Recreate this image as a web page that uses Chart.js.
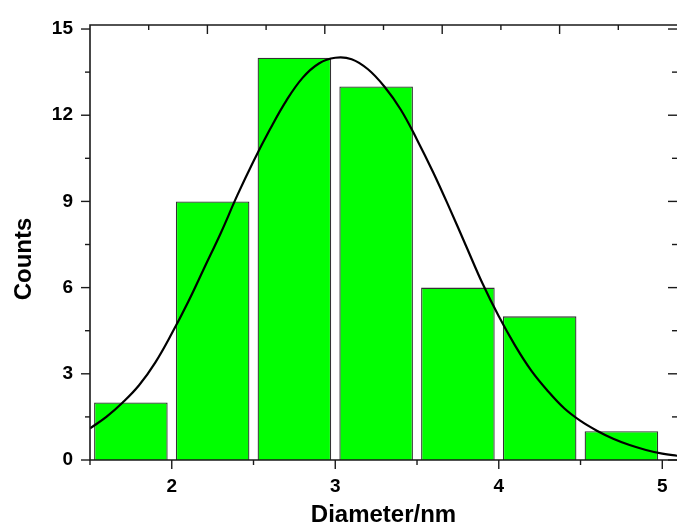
<!DOCTYPE html>
<html>
<head>
<meta charset="utf-8">
<script src="https://cdn.jsdelivr.net/npm/chart.js@4.4.1/dist/chart.umd.min.js"></script>
<style>
  body { margin: 0; background: #fff; }
  #wrap { width: 677px; height: 529px; position: relative; }
</style>
</head>
<body>
<div id="wrap"><canvas id="histChart"></canvas></div>
<script>
// histogram bins (centre of each 0.5 nm bin) and counts
const binCenters = [1.75, 2.25, 2.75, 3.25, 3.75, 4.25, 4.75];
const counts = [2, 9, 14, 13, 6, 5, 1];

// fitted curve
const fitX = [1.5, 1.6, 1.7, 1.8, 1.9, 2.0, 2.1, 2.2, 2.3, 2.4, 2.5, 2.6, 2.7, 2.8, 2.9, 3.0, 3.1, 3.2, 3.3,
              3.4, 3.5, 3.6, 3.7, 3.8, 3.9, 4.0, 4.1, 4.2, 4.3, 4.4, 4.5, 4.6, 4.7, 4.8, 4.9, 5.0, 5.1];
const fitY = [1.1, 1.5, 2.0, 2.6, 3.4, 4.4, 5.5, 6.7, 7.9, 9.2, 10.4, 11.5, 12.5, 13.3, 13.8, 14.0, 13.95, 13.6, 13.0,
              12.2, 11.15, 10.0, 8.75, 7.45, 6.15, 5.0, 3.98, 3.1, 2.4, 1.8, 1.36, 1.02, 0.74, 0.52, 0.35, 0.22, 0.14];

// axis ticks
const xTicks = [2, 3, 4, 5];
const xMinorTicks = [1.5, 2.5, 3.5, 4.5];
const yTicks = [0, 3, 6, 9, 12, 15];
const yMinorTicks = [1.5, 4.5, 7.5, 10.5, 13.5];
const topTicks = [1, 2, 3, 4];
const topMinorTicks = [0.5, 1.5, 2.5, 3.5, 4.5];

const xTitle = 'Diameter/nm';
const yTitle = 'Counts';

const FONT = '"Liberation Sans", Arial, sans-serif';
const INK = '#1a1a1a';

// frame (right edge falls outside the picture), tick marks and axis titles
const framePlugin = {
    id: 'frame',
    afterDraw(chart) {
        const { ctx, chartArea: a, scales } = chart;
        const x = scales.x, y = scales.y, xt = scales.xTop;
        ctx.save();
        ctx.strokeStyle = INK;
        ctx.lineWidth = 1.6;
        ctx.beginPath();
        ctx.moveTo(a.right + 2, a.top);
        ctx.lineTo(a.left, a.top);
        ctx.lineTo(a.left, a.bottom);
        ctx.lineTo(a.right + 2, a.bottom);
        ctx.stroke();

        const tick = (x1, y1, x2, y2) => {
            ctx.beginPath();
            ctx.moveTo(x1, y1);
            ctx.lineTo(x2, y2);
            ctx.stroke();
        };
        ctx.lineWidth = 1.4;
        xTicks.forEach(v => { const p = x.getPixelForValue(v); tick(p, a.bottom, p, a.bottom + 9); });
        xMinorTicks.forEach(v => { const p = x.getPixelForValue(v); tick(p, a.bottom, p, a.bottom + 5); });
        yTicks.forEach(v => {
            const p = y.getPixelForValue(v);
            tick(a.left, p, a.left - 9, p);
            tick(a.right, p, a.right - 9, p);
        });
        yMinorTicks.forEach(v => {
            const p = y.getPixelForValue(v);
            tick(a.left, p, a.left - 5, p);
            tick(a.right, p, a.right - 5, p);
        });
        topTicks.forEach(v => { const p = xt.getPixelForValue(v); tick(p, a.top, p, a.top + 9); });
        topMinorTicks.forEach(v => { const p = xt.getPixelForValue(v); tick(p, a.top, p, a.top + 5); });

        ctx.fillStyle = '#000';
        ctx.font = 'bold 24px ' + FONT;
        ctx.textAlign = 'center';
        ctx.textBaseline = 'middle';
        ctx.fillText(xTitle, (a.left + a.right) / 2, 515);
        ctx.translate(24, 259);
        ctx.rotate(-Math.PI / 2);
        ctx.fillText(yTitle, 0, 0);
        ctx.restore();
    }
};

const ctx = document.getElementById('histChart').getContext('2d');
new Chart(ctx, {
    type: 'bar',
    data: {
        datasets: [
            {
                type: 'line',
                label: 'Fit',
                data: fitX.map((v, i) => ({ x: v, y: fitY[i] })),
                borderColor: '#000',
                borderWidth: 2.2,
                pointRadius: 0,
                tension: 0.4,
                fill: false
            },
            {
                label: 'Counts',
                data: binCenters.map((v, i) => ({ x: v, y: counts[i] })),
                backgroundColor: '#00ff00',
                borderColor: '#333',
                borderWidth: 1.3,
                barPercentage: 0.9,
                categoryPercentage: 1.0
            }
        ]
    },
    options: {
        responsive: true,
        maintainAspectRatio: false,
        animation: false,
        layout: { padding: { top: 25, left: 0, right: 0, bottom: 0 } },
        plugins: { legend: { display: false }, tooltip: { enabled: false } },
        scales: {
            x: {
                type: 'linear',
                position: 'bottom',
                offset: false,
                min: 1.5,
                max: 5.09,
                afterBuildTicks: s => { s.ticks = xTicks.map(v => ({ value: v })); },
                afterFit: s => { s.height = 69; s.paddingLeft = 0; s.paddingRight = 0; },
                grid: { display: false, offset: false },
                border: { display: false },
                ticks: { color: '#000', padding: 7, font: { family: FONT, size: 19, weight: 'bold' } }
            },
            xTop: {
                type: 'linear',
                position: 'top',
                offset: false,
                min: 0,
                max: 5,
                display: false
            },
            y: {
                min: 0,
                max: 15.14,
                afterBuildTicks: s => { s.ticks = yTicks.map(v => ({ value: v })); },
                afterFit: s => { s.width = 90; s.paddingTop = 0; s.paddingBottom = 0; },
                grid: { display: false },
                border: { display: false },
                ticks: { color: '#000', padding: 9, font: { family: FONT, size: 19, weight: 'bold' } }
            }
        }
    },
    plugins: [framePlugin]
});
</script>
</body>
</html>
